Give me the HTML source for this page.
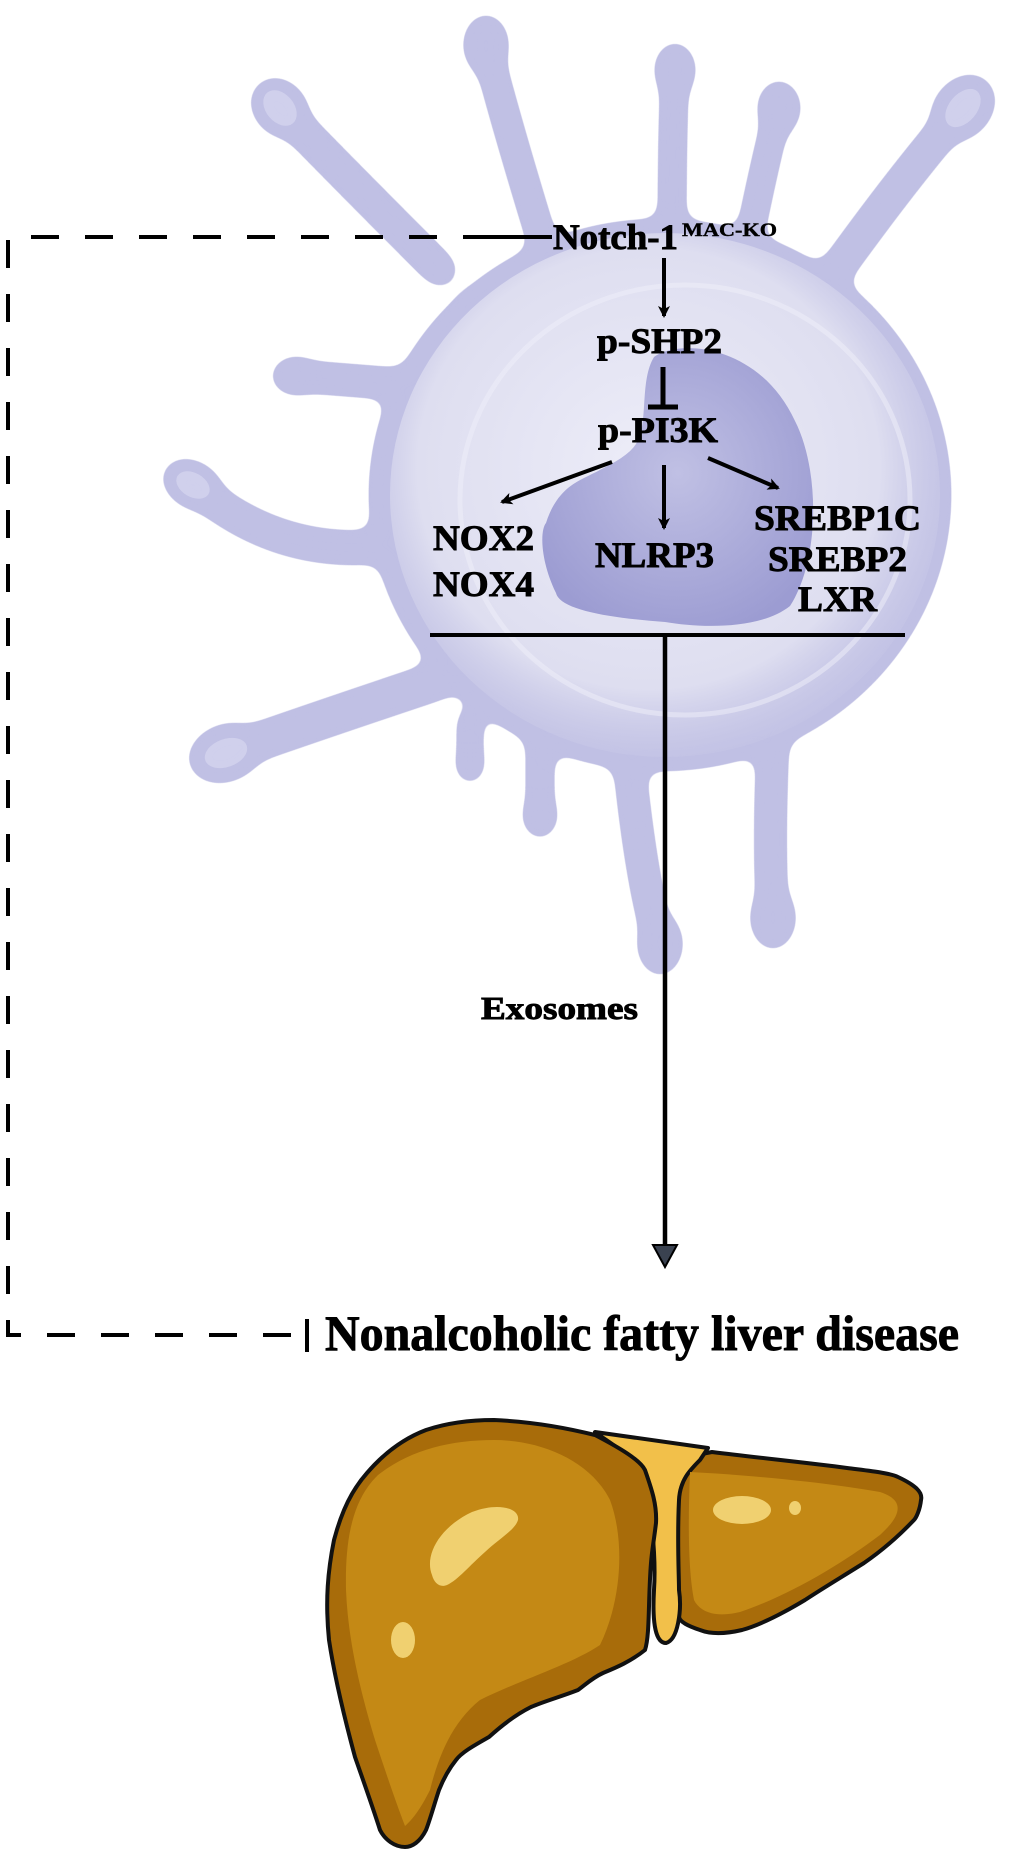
<!DOCTYPE html>
<html><head><meta charset="utf-8"><style>
html,body{margin:0;padding:0;background:#fff}
svg{display:block}
text{font-family:"Liberation Serif",serif;font-weight:bold;fill:#000}
</style></head><body>
<svg width="1020" height="1864" viewBox="0 0 1020 1864" xmlns="http://www.w3.org/2000/svg">
<defs>
<radialGradient id="body" cx="0.47" cy="0.45" r="0.6">
<stop offset="0" stop-color="#ededf8"/><stop offset="0.7" stop-color="#dedef0"/><stop offset="1" stop-color="#c6c6e6" stop-opacity="0"/>
</radialGradient>
<radialGradient id="nuc" cx="0.5" cy="0.45" r="0.6">
<stop offset="0" stop-color="#c0c0e4"/><stop offset="1" stop-color="#9c9cd2"/>
</radialGradient>
<filter id="goo" x="-20%" y="-20%" width="140%" height="140%">
<feGaussianBlur in="SourceGraphic" stdDeviation="9" result="b"/>
<feColorMatrix in="b" mode="matrix" values="1 0 0 0 0  0 1 0 0 0  0 0 1 0 0  0 0 0 22 -9"/>
</filter>
<marker id="ah" markerWidth="12" markerHeight="12" refX="10" refY="6" orient="auto" markerUnits="userSpaceOnUse">
<path d="M0,0 L12,6 L0,12 L3,6 Z" fill="#000"/></marker>
</defs>

<g filter="url(#goo)">
<g stroke="#c0c0e4" stroke-linecap="round" fill="none">
<path d="M440,270 Q340,170 280,108" stroke-width="32"/>
<path d="M545,250 Q505,120 486,45" stroke-width="28"/>
<path d="M672,250 Q672,130 675,70" stroke-width="26"/>
<path d="M745,260 Q765,160 779,108" stroke-width="26"/>
<path d="M815,300 Q900,180 963,108" stroke-width="32"/>
<path d="M410,385 L296,376" stroke-width="30"/>
<path d="M420,540 Q290,570 193,485" stroke-width="32"/>
<path d="M440,680 Q320,720 226,753" stroke-width="36"/>
<path d="M470,720 L470,765" stroke-width="24"/>
<path d="M540,740 L540,816" stroke-width="26"/>
<path d="M627,740 Q640,880 660,944" stroke-width="30"/>
<path d="M773,740 Q768,850 773,918" stroke-width="30"/>
</g>
<g fill="#c0c0e4">
<ellipse cx="280" cy="108" rx="26" ry="32" transform="rotate(-40 280 108)"/>
<ellipse cx="486" cy="45" rx="22" ry="30"/>
<ellipse cx="675" cy="70" rx="20" ry="27"/>
<ellipse cx="779" cy="108" rx="21" ry="27"/>
<ellipse cx="963" cy="108" rx="28" ry="36" transform="rotate(40 963 108)"/>
<ellipse cx="296" cy="376" rx="24" ry="19"/>
<ellipse cx="193" cy="485" rx="32" ry="23" transform="rotate(30 193 485)"/>
<ellipse cx="226" cy="753" rx="38" ry="28" transform="rotate(-20 226 753)"/>
<ellipse cx="470" cy="765" rx="14" ry="18"/>
<ellipse cx="540" cy="816" rx="17" ry="22"/>
<ellipse cx="660" cy="944" rx="22" ry="31"/>
<ellipse cx="773" cy="918" rx="22" ry="31"/>
<ellipse cx="660" cy="495" rx="290" ry="275"/>
</g>
</g>
<g opacity="0.8">
<ellipse cx="280" cy="108" rx="14" ry="20" transform="rotate(-40 280 108)" fill="#d4d4ee"/>
<ellipse cx="963" cy="108" rx="14" ry="22" transform="rotate(40 963 108)" fill="#d4d4ee"/>
<ellipse cx="226" cy="753" rx="22" ry="14" transform="rotate(-20 226 753)" fill="#d4d4ee"/>
<ellipse cx="193" cy="485" rx="18" ry="12" transform="rotate(30 193 485)" fill="#d4d4ee"/>
</g>
<ellipse cx="665" cy="495" rx="275" ry="262" fill="url(#body)"/>
<ellipse cx="685" cy="500" rx="225" ry="215" fill="none" stroke="#f0f0fa" stroke-width="5" opacity="0.5"/>
<path d="M654,357 C680,338 760,345 795,421 C820,470 820,560 790,606 C760,630 700,628 665,622 C610,618 560,610 556,593 C540,560 540,530 546,523 C555,495 570,485 584,478 C610,465 632,455 638,440 C648,420 640,380 654,357 Z" fill="url(#nuc)"/>

<path d="M545,237 L8,237 L8,1335 L300,1335" fill="none" stroke="#000" stroke-width="4" stroke-dasharray="28 26"/>
<line x1="470" y1="237" x2="552" y2="237" stroke="#000" stroke-width="4"/>
<line x1="307" y1="1319" x2="307" y2="1352" stroke="#000" stroke-width="4"/>

<g font-weight="bold" font-family="Liberation Serif, serif" stroke="#000" stroke-width="0.9">
<text x="553" y="249" font-size="36" textLength="125" lengthAdjust="spacingAndGlyphs">Notch-1</text>
<text x="682" y="236" font-size="19" textLength="95" lengthAdjust="spacingAndGlyphs" stroke-width="0.4">MAC-KO</text>
<text x="597" y="353" font-size="36" textLength="125" lengthAdjust="spacingAndGlyphs">p-SHP2</text>
<text x="598" y="442" font-size="36" textLength="120" lengthAdjust="spacingAndGlyphs">p-PI3K</text>
<text x="433" y="550" font-size="36" textLength="101" lengthAdjust="spacingAndGlyphs">NOX2</text>
<text x="433" y="596" font-size="36" textLength="101" lengthAdjust="spacingAndGlyphs">NOX4</text>
<text x="595" y="567" font-size="36" textLength="119" lengthAdjust="spacingAndGlyphs">NLRP3</text>
<text x="754" y="530" font-size="36" textLength="167" lengthAdjust="spacingAndGlyphs">SREBP1C</text>
<text x="768" y="571" font-size="36" textLength="139" lengthAdjust="spacingAndGlyphs">SREBP2</text>
<text x="798" y="611" font-size="36" textLength="79" lengthAdjust="spacingAndGlyphs">LXR</text>
<text x="481" y="1019" font-size="32" textLength="157" lengthAdjust="spacingAndGlyphs">Exosomes</text>
<text x="325" y="1350" font-size="50" textLength="634" lengthAdjust="spacingAndGlyphs">Nonalcoholic fatty liver disease</text>
</g>
<line x1="664" y1="258" x2="664" y2="316" stroke="#000" stroke-width="4" marker-end="url(#ah)"/>
<line x1="663" y1="367" x2="663" y2="407" stroke="#000" stroke-width="5"/>
<line x1="648" y1="407" x2="678" y2="407" stroke="#000" stroke-width="5"/>
<line x1="612" y1="462" x2="502" y2="502" stroke="#000" stroke-width="4" marker-end="url(#ah)"/>
<line x1="664" y1="465" x2="664" y2="528" stroke="#000" stroke-width="4" marker-end="url(#ah)"/>
<line x1="708" y1="458" x2="778" y2="488" stroke="#000" stroke-width="4" marker-end="url(#ah)"/>
<line x1="430" y1="635" x2="905" y2="635" stroke="#000" stroke-width="4"/>
<line x1="665" y1="635" x2="665" y2="1250" stroke="#000" stroke-width="4.5"/>
<path d="M653,1245 L677,1245 L665,1267 Z" fill="#3a4250" stroke="#000" stroke-width="2"/>

<g stroke="#111" stroke-width="4" stroke-linejoin="round">
<path d="M670,1460 L712,1452 C760,1458 810,1463 847,1468 C870,1471 890,1473 898,1477 C915,1485 923,1492 921,1500 C920,1510 916,1518 914,1520 C895,1540 880,1552 864,1563 C840,1578 820,1590 805,1600 C780,1615 760,1625 742,1630 C725,1634 710,1634 700,1630 C688,1626 680,1622 679,1617 C672,1600 668,1580 668,1557 C666,1530 666,1500 670,1460 Z" fill="#a86c0a"/>
<path d="M595,1432 L708,1448 L700,1460 C690,1470 680,1480 679,1500 C677,1540 679,1575 679,1590 C682,1610 678,1640 666,1643 C656,1643 652,1625 654,1590 C656,1560 652,1500 640,1470 C625,1450 605,1440 595,1432 Z" fill="#f2c04a"/>
<path d="M494,1420 C540,1422 575,1430 595,1435 C620,1448 640,1460 645,1470 C652,1490 657,1505 656,1523 C654,1540 652,1550 651,1563 C648,1600 650,1635 645,1650 C630,1662 615,1668 603,1673 C592,1678 585,1685 578,1690 C560,1697 545,1701 531,1707 C515,1715 500,1727 489,1737 C475,1745 462,1752 456,1760 C448,1770 443,1780 439,1790 C434,1805 430,1820 426,1830 C420,1842 412,1847 405,1847 C395,1847 385,1840 380,1830 C372,1805 363,1780 355,1757 C345,1720 335,1680 329,1640 C325,1600 328,1570 334,1540 C342,1510 352,1490 367,1473 C385,1452 405,1438 426,1430 C450,1422 472,1420 494,1420 Z" fill="#a86c0a"/>
</g>
<path d="M494,1440 C540,1440 590,1460 610,1500 C625,1540 622,1600 600,1645 C570,1665 520,1680 480,1700 C455,1720 440,1750 430,1790 C420,1810 412,1820 405,1826 C395,1800 385,1770 375,1740 C360,1690 348,1640 346,1590 C345,1540 352,1500 378,1475 C410,1450 450,1440 494,1440 Z" fill="#c48915"/>
<path d="M690,1472 C750,1475 830,1483 880,1492 C905,1500 902,1515 880,1535 C840,1565 790,1595 740,1612 C715,1618 700,1612 694,1600 C688,1570 688,1520 690,1472 Z" fill="#c48915"/>
<g fill="#f0d070">
<path d="M432,1575 C424,1555 440,1527 472,1512 C498,1502 520,1508 518,1520 C515,1530 500,1538 485,1552 C470,1565 458,1580 447,1585 C440,1588 434,1583 432,1575 Z"/>
<ellipse cx="403" cy="1640" rx="12" ry="18"/>
<ellipse cx="742" cy="1510" rx="29" ry="14"/>
<ellipse cx="795" cy="1508" rx="6" ry="7"/>
</g>
</svg>
</body></html>
